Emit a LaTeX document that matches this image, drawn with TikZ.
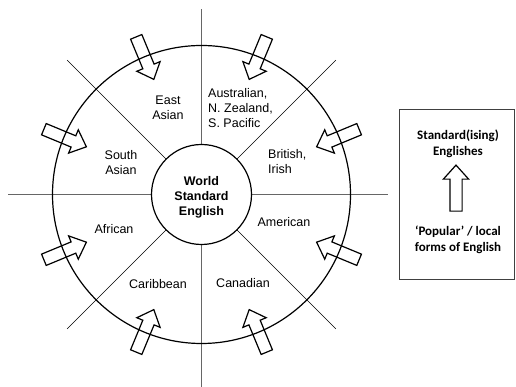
\documentclass[tikz,border=0pt]{standalone}
\usepackage{fontspec}
\setmainfont{Liberation Sans}
\newfontfamily\boxfont{Carlito}
\usetikzlibrary{shapes.arrows,calc}
\tikzset{
  axisline/.style={draw=black!60, line width=1.2pt},
  diagline/.style={draw=black, line width=0.6pt},
  ringline/.style={draw=black, line width=1.2pt},
  inarrow/.style={shape=single arrow, draw=black, line width=1.2pt,
    inner sep=5.5pt, minimum height=46pt, single arrow head extend=6.5pt,
    single arrow tip angle=84, anchor=center},
  region/.style={font=\fontsize{12.5}{15}\selectfont, align=center, inner sep=0pt},
  legend/.style={font=\boxfont\bfseries\fontsize{13}{16}\selectfont, align=center, inner sep=0pt}
}
\begin{document}
\begin{tikzpicture}[x=1pt,y=1pt]
  \useasboundingbox (0,0) rectangle (516,387);
  \coordinate (c) at (201.5,192.5);

  % axes and diagonals, stopping at the inner circle
  \draw[axisline] ($(c)+(0,50)$) -- (201.5,378);
  \draw[axisline] ($(c)+(0,-50)$) -- (201.5,0);
  \draw[axisline] ($(c)+(-50,0)$) -- (8,192.5);
  \draw[axisline] ($(c)+(50,0)$) -- (388,192.5);
  \foreach \a in {45,135,225,315}
    \draw[diagline] ($(c)+(\a:50)$) -- ($(c)+(\a:190)$);

  % outer ring and central circle
  \draw[ringline] (c) circle (149);
  \node[ringline, circle, fill=white, minimum size=100pt, inner sep=0pt] (wse) at (c) {};
  \node[region, font=\bfseries\fontsize{12.5}{15}\selectfont] at (201.5,190) {World\\Standard\\English};

  % inward arrows, one per sector
  \foreach \a [count=\i] in {22.5,67.5,112.5,157.5,202.5,247.5,292.5,337.5}
    \node[inarrow, rotate=\a+180] (a\i) at ($(c)+(\a:151)$) {};

  % sector labels
  \node[region] (ea) at (168,279) {East\\Asian};
  \node[region, align=left, anchor=west] (au) at (208,279) {Australian,\\N. Zealand,\\S. Pacific};
  \node[region] (sa) at (121,224) {South\\Asian};
  \node[region, align=left, anchor=west] (bi) at (268,225) {British,\\Irish};
  \node[region] (af) at (114,158) {African};
  \node[region] (am) at (284,165) {American};
  \node[region] (cb) at (158,103) {Caribbean};
  \node[region] (cn) at (243,104) {Canadian};

  % legend box
  \draw[draw=black!75, line width=0.9pt] (399,108) rectangle (514,278);
  \node[legend] (std) at (458,243) {Standard(ising)\\Englishes};
  \node[inarrow, rotate=90] (up) at (456,195.5) {};
  \node[legend] (pop) at (458,147) {‘Popular’ / local\\forms of English};
\end{tikzpicture}
\end{document}
